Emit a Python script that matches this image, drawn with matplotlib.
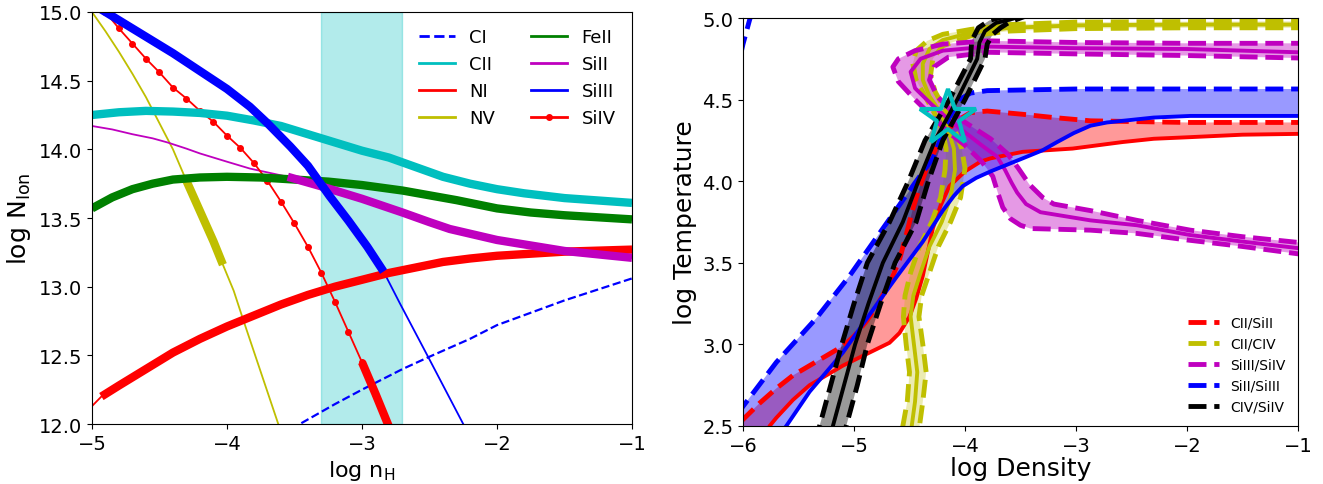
import matplotlib
matplotlib.use("Agg")
import matplotlib.pyplot as plt
from matplotlib.lines import Line2D
import numpy as np

# ---------------- left panel: log N vs log nH ----------------
ci_x = [-3.6, -3.46, -3.2, -3.0, -2.7, -2.5, -2.2, -2.0, -1.5, -1.0]
ci_y = [11.92, 12.0, 12.145, 12.25, 12.40, 12.49, 12.62, 12.72, 12.90, 13.06]

cii_x = [-5.0, -4.8, -4.6, -4.4, -4.2, -4.0, -3.8, -3.6, -3.4, -3.2, -3.0, -2.8, -2.6, -2.4,
         -2.2, -2.0, -1.8, -1.5, -1.0]
cii_y = [14.25, 14.27, 14.28, 14.275, 14.265, 14.245, 14.21, 14.17, 14.11, 14.05, 13.99, 13.94,
         13.87, 13.80, 13.75, 13.71, 13.68, 13.645, 13.61]

ni_x = [-5.0, -4.93, -4.8, -4.6, -4.4, -4.2, -4.0, -3.8, -3.6, -3.4, -3.2, -3.0, -2.8, -2.6,
        -2.4, -2.2, -2.0, -1.5, -1.0]
ni_y = [12.13, 12.2, 12.28, 12.40, 12.52, 12.62, 12.71, 12.79, 12.87, 12.94, 13.0, 13.05, 13.10,
        13.14, 13.18, 13.205, 13.225, 13.255, 13.27]

nv_x = [-5.0, -4.9, -4.8, -4.7, -4.6, -4.5, -4.4, -4.3, -4.2, -4.1, -4.03, -3.95, -3.88, -3.75,
        -3.62, -3.55]
nv_y = [15.0, 14.86, 14.71, 14.55, 14.38, 14.19, 14.0, 13.77, 13.55, 13.33, 13.16, 12.97, 12.76,
        12.38, 12.0, 11.8]

feii_x = [-5.0, -4.85, -4.7, -4.55, -4.4, -4.2, -4.0, -3.75, -3.5, -3.25, -3.0, -2.7, -2.5, -2.3,
          -2.0, -1.75, -1.5, -1.0]
feii_y = [13.57, 13.65, 13.71, 13.75, 13.78, 13.795, 13.80, 13.795, 13.78, 13.765, 13.74, 13.70,
          13.665, 13.63, 13.57, 13.54, 13.52, 13.49]

siii_x = [-5.0, -4.85, -4.7, -4.55, -4.44, -4.3, -4.2, -4.0, -3.83, -3.55, -3.3, -3.0, -2.7,
          -2.5, -2.35, -2.0, -1.75, -1.5, -1.0]
siii_y = [14.17, 14.145, 14.11, 14.08, 14.05, 14.005, 13.97, 13.91, 13.86, 13.80, 13.73, 13.64,
          13.54, 13.47, 13.42, 13.34, 13.30, 13.26, 13.21]

siiii_x = [-4.95, -4.9, -4.6, -4.4, -4.2, -4.0, -3.83, -3.7, -3.53, -3.4, -3.24, -3.1, -2.96,
           -2.84, -2.72, -2.5, -2.25, -2.2]
siiii_y = [15.03, 15.0, 14.82, 14.70, 14.57, 14.44, 14.31, 14.19, 14.02, 13.88, 13.66, 13.48,
           13.29, 13.11, 12.88, 12.47, 12.0, 11.9]

siiv_x = [-5.0, -4.9, -4.8, -4.7, -4.6, -4.5, -4.4, -4.3, -4.2, -4.1, -4.0, -3.9, -3.8,
          -3.7, -3.6, -3.5, -3.4, -3.3, -3.2, -3.1, -3.0, -2.9, -2.8]
siiv_y = [15.1, 15.0, 14.88, 14.77, 14.66, 14.56, 14.45, 14.37, 14.28, 14.20, 14.10, 14.01, 13.90,
          13.77, 13.62, 13.46, 13.29, 13.10, 12.89, 12.67, 12.45, 12.22, 11.98]

# ranges where each ion is drawn thick
thick = {"CII": (-5.0, -1.0), "NI": (-4.93, -1.0), "NV": (-4.3, -4.03), "FeII": (-5.0, -1.0),
         "SiII": (-3.55, -1.0), "SiIII": (-5.0, -2.84), "SiIV": (-3.0, -2.8)}

# ---------------- right panel: ratio bands in (nH, T) ----------------
# CII/SiII : dashed limit and solid limit
cii_siii_dash = [(-0.9, 4.36), (-1.0, 4.36), (-2.0, 4.36), (-2.87, 4.37), (-3.2, 4.39), (-3.48, 4.41),
                 (-3.8, 4.43), (-3.95, 4.42), (-4.05, 4.38), (-4.15, 4.32), (-4.25, 4.22), (-4.34, 4.09),
                 (-4.41, 3.96), (-4.47, 3.83), (-4.53, 3.67), (-4.59, 3.52), (-4.65, 3.42), (-4.71, 3.34),
                 (-4.8, 3.23), (-4.89, 3.14), (-5.0, 3.05), (-5.10, 2.99), (-5.25, 2.93), (-5.40, 2.87),
                 (-5.55, 2.81), (-5.70, 2.73), (-5.85, 2.64), (-6.0, 2.54), (-6.1, 2.48)]
cii_siii_solid = [(-0.9, 4.29), (-1.0, 4.29), (-1.5, 4.285), (-1.97, 4.27), (-2.3, 4.26), (-2.58, 4.24),
                  (-3.03, 4.20), (-3.48, 4.18), (-3.77, 4.14), (-3.86, 4.12), (-4.0, 4.06), (-4.14, 3.97),
                  (-4.22, 3.85), (-4.29, 3.71), (-4.34, 3.55), (-4.38, 3.42), (-4.44, 3.28), (-4.5, 3.17),
                  (-4.59, 3.07), (-4.68, 3.01), (-4.80, 2.97), (-5.10, 2.87), (-5.40, 2.75), (-5.55, 2.66),
                  (-5.70, 2.55), (-5.76, 2.5), (-5.8, 2.45)]

# CII/CIV : outer dashed, inner dashed, centre
cii_civ_a = [(-0.9, 4.98), (-1.0, 4.98), (-2.0, 4.978), (-3.0, 4.975), (-3.6, 4.96), (-3.95, 4.93),
             (-4.2, 4.9), (-4.34, 4.86), (-4.44, 4.80), (-4.47, 4.72), (-4.44, 4.62), (-4.36, 4.52),
             (-4.27, 4.41), (-4.2, 4.3), (-4.17, 4.2), (-4.18, 4.07), (-4.22, 3.9), (-4.30, 3.75),
             (-4.41, 3.6), (-4.49, 3.44), (-4.54, 3.3), (-4.555, 3.17), (-4.53, 3.0), (-4.50, 2.83),
             (-4.52, 2.65), (-4.56, 2.5), (-4.57, 2.45)]
cii_civ_b = [(-0.9, 4.94), (-1.0, 4.94), (-2.0, 4.94), (-3.0, 4.935), (-3.6, 4.92), (-3.95, 4.89),
             (-4.2, 4.83), (-4.29, 4.75), (-4.31, 4.65), (-4.27, 4.55), (-4.19, 4.45), (-4.1, 4.33),
             (-4.03, 4.2), (-4.0, 4.08), (-4.04, 3.9), (-4.13, 3.75), (-4.24, 3.6), (-4.32, 3.44),
             (-4.39, 3.3), (-4.415, 3.17), (-4.38, 3.0), (-4.35, 2.83), (-4.38, 2.65), (-4.41, 2.5),
             (-4.42, 2.45)]
cii_civ_c = [(-0.9, 4.96), (-1.0, 4.96), (-2.0, 4.96), (-3.0, 4.955), (-3.6, 4.94), (-3.95, 4.91),
             (-4.2, 4.865), (-4.32, 4.81), (-4.38, 4.72), (-4.38, 4.62), (-4.32, 4.52), (-4.23, 4.43),
             (-4.15, 4.31), (-4.1, 4.2), (-4.09, 4.07), (-4.13, 3.9), (-4.21, 3.75), (-4.32, 3.6),
             (-4.40, 3.44), (-4.465, 3.3), (-4.49, 3.17), (-4.46, 3.0), (-4.43, 2.83), (-4.45, 2.65),
             (-4.48, 2.5), (-4.49, 2.45)]

# SiIII/SiIV
siiii_siiv_a = [(-0.9, 4.845), (-1.0, 4.845), (-2.0, 4.845), (-3.0, 4.85), (-3.8, 4.86), (-4.2, 4.84),
                (-4.45, 4.80), (-4.6, 4.75), (-4.65, 4.70), (-4.6, 4.61), (-4.45, 4.5), (-4.3, 4.4),
                (-4.15, 4.3), (-4.0, 4.22), (-3.85, 4.12), (-3.75, 4.03), (-3.70, 3.92), (-3.66, 3.84),
                (-3.59, 3.77), (-3.5, 3.73), (-3.41, 3.71), (-2.87, 3.70), (-2.45, 3.68), (-2.0, 3.64),
                (-1.5, 3.60), (-1.0, 3.555), (-0.9, 3.55)]
siiii_siiv_b = [(-0.9, 4.755), (-1.0, 4.755), (-2.0, 4.77), (-3.0, 4.78), (-3.8, 4.79), (-4.15, 4.76),
                (-4.28, 4.70), (-4.32, 4.62), (-4.25, 4.52), (-4.12, 4.43), (-4.02, 4.37), (-3.77, 4.26),
                (-3.62, 4.17), (-3.52, 4.08), (-3.42, 3.98), (-3.3, 3.9), (-3.2, 3.86), (-2.87, 3.82),
                (-2.45, 3.76), (-1.97, 3.70), (-1.5, 3.66), (-1.0, 3.625), (-0.9, 3.62)]
siiii_siiv_c = [(-0.9, 4.79), (-1.0, 4.79), (-2.0, 4.81), (-3.0, 4.815), (-3.8, 4.825), (-4.2, 4.80),
                (-4.4, 4.75), (-4.49, 4.67), (-4.45, 4.57), (-4.3, 4.47), (-4.15, 4.38), (-4.0, 4.3),
                (-3.85, 4.22), (-3.71, 4.15), (-3.64, 4.07), (-3.58, 3.99), (-3.53, 3.93), (-3.45, 3.86),
                (-3.32, 3.81), (-2.87, 3.76), (-2.45, 3.73), (-1.97, 3.67), (-1.5, 3.63), (-1.0, 3.59),
                (-0.9, 3.585)]

# SiII/SiIII : dashed limit and solid limit
siii_siiii_dash = [(-0.9, 4.565), (-1.0, 4.565), (-2.0, 4.565), (-3.0, 4.565), (-3.8, 4.555), (-3.95, 4.54),
                   (-4.05, 4.50), (-4.15, 4.38), (-4.29, 4.14), (-4.45, 3.99), (-4.74, 3.71), (-5.04, 3.42),
                   (-5.34, 3.16), (-5.70, 2.89), (-6.0, 2.62), (-6.15, 2.48)]
siii_siiii_solid = [(-0.9, 4.40), (-1.0, 4.40), (-1.97, 4.40), (-2.3, 4.39), (-2.58, 4.37), (-2.72, 4.36),
                    (-2.87, 4.34), (-3.02, 4.295), (-3.17, 4.24), (-3.3, 4.19), (-3.48, 4.14), (-3.77, 4.06),
                    (-3.9, 4.02), (-4.02, 3.97), (-4.1, 3.91), (-4.2, 3.82), (-4.38, 3.63), (-4.62, 3.41),
                    (-4.80, 3.24), (-5.10, 2.95), (-5.40, 2.71), (-5.61, 2.5), (-5.67, 2.45)]
siii_siiii_corner = [(-6.02, 4.78), (-6.0, 4.84), (-5.94, 4.99), (-5.92, 5.03)]

# CIV/SiIV
civ_siiv_a = [(-5.35, 2.4), (-5.31, 2.5), (-5.21, 2.75), (-5.11, 3.0), (-5.0, 3.25), (-4.88, 3.5),
              (-4.68, 3.75), (-4.51, 4.0), (-4.36, 4.25), (-4.14, 4.5), (-3.95, 4.75), (-3.94, 4.86),
              (-3.88, 4.94), (-3.78, 4.985), (-3.65, 5.01), (-3.5, 5.05)]
civ_siiv_c = [(-5.23, 2.4), (-5.19, 2.5), (-5.09, 2.75), (-4.99, 3.0), (-4.87, 3.25), (-4.74, 3.5),
              (-4.56, 3.75), (-4.42, 4.0), (-4.27, 4.25), (-4.07, 4.5), (-3.89, 4.75), (-3.87, 4.85),
              (-3.82, 4.92), (-3.72, 4.97), (-3.6, 4.99), (-3.4, 5.03)]
civ_siiv_b = [(-5.11, 2.4), (-5.07, 2.5), (-4.97, 2.75), (-4.88, 3.0), (-4.76, 3.25), (-4.63, 3.5),
              (-4.44, 3.75), (-4.33, 4.0), (-4.20, 4.25), (-4.0, 4.5), (-3.82, 4.75), (-3.80, 4.84),
              (-3.75, 4.9), (-3.68, 4.94), (-3.6, 4.975), (-3.5, 5.0), (-3.3, 5.05)]

best_nh, best_t = -4.15, 4.39


def seg(x, y, lo, hi):
    x = np.asarray(x)
    y = np.asarray(y)
    m = (x >= lo - 1e-9) & (x <= hi + 1e-9)
    return x[m], y[m]


def xy(pts):
    a = np.array(pts)
    return a[:, 0], a[:, 1]


fig = plt.figure(figsize=(13.23, 4.85), dpi=100)
ax1 = fig.add_axes([0.0695, 0.1237, 0.4082, 0.8495])
ax2 = fig.add_axes([0.5616, 0.1196, 0.4195, 0.8412])

# ---- left ----
thin = 1.3
fat = 6
ax1.axvspan(-3.3, -2.7, color="c", alpha=0.3)
ax1.plot(ci_x, ci_y, "b--", lw=thin + 0.3, label="CI")
ax1.plot(cii_x, cii_y, "c-", lw=thin + 0.5, label="CII")
ax1.plot(ni_x, ni_y, "r-", lw=thin, label="NI")
ax1.plot(nv_x, nv_y, "y-", lw=thin, label="NV")
ax1.plot(feii_x, feii_y, "g-", lw=thin + 0.5, label="FeII")
ax1.plot(siii_x, siii_y, "m-", lw=thin, label="SiII")
ax1.plot(siiii_x, siiii_y, "b-", lw=thin, label="SiIII")
ax1.plot(siiv_x, siiv_y, "r.-", lw=thin, ms=8, label="SiIV")

for xs, ys, c, key in [(cii_x, cii_y, "c", "CII"), (ni_x, ni_y, "r", "NI"), (nv_x, nv_y, "y", "NV"),
                       (feii_x, feii_y, "g", "FeII"), (siii_x, siii_y, "m", "SiII"),
                       (siiii_x, siiii_y, "b", "SiIII"), (siiv_x, siiv_y, "r", "SiIV")]:
    sx, sy = seg(xs, ys, *thick[key])
    ax1.plot(sx, sy, color=c, lw=fat, solid_capstyle="butt", solid_joinstyle="round")

ax1.set_xlim(-5, -1)
ax1.set_ylim(12, 15)
ax1.set_xticks([-5, -4, -3, -2, -1])
ax1.set_yticks(np.arange(12, 15.01, 0.5))
ax1.tick_params(labelsize=14)
ax1.set_xlabel(r"log n$_{\rm H}$", fontsize=16)
ax1.set_ylabel(r"log N$_{\rm Ion}$", fontsize=18)
leg = ax1.legend(ncol=2, loc="upper right", fontsize=13, frameon=False, columnspacing=2.0)
for h in leg.get_lines():
    h.set_linewidth(2)

# ---- right ----
dlw, slw = 3.5, 2.8


def band(ax, a, b, color, alpha):
    ax_, ay_ = xy(a)
    bx_, by_ = xy(b)
    ax.fill(np.concatenate([ax_, bx_[::-1]]), np.concatenate([ay_, by_[::-1]]),
            color=color, alpha=alpha, lw=0, zorder=1)


band(ax2, cii_siii_dash, cii_siii_solid, "r", 0.4)
band(ax2, cii_civ_a, cii_civ_b, "y", 0.3)
band(ax2, siiii_siiv_a, siiii_siiv_b, "m", 0.4)
band(ax2, siii_siiii_dash, siii_siiii_solid, "b", 0.4)
band(ax2, civ_siiv_a, civ_siiv_b, "k", 0.4)

ax2.plot(*xy(cii_siii_dash), "r--", lw=dlw, zorder=2)
ax2.plot(*xy(cii_siii_solid), "r-", lw=slw, zorder=2)
ax2.plot(*xy(cii_civ_a), "y--", lw=dlw, zorder=2)
ax2.plot(*xy(cii_civ_b), "y--", lw=dlw, zorder=2)
ax2.plot(*xy(cii_civ_c), "y-", lw=slw, zorder=2)
ax2.plot(*xy(siiii_siiv_a), "m--", lw=dlw, zorder=2)
ax2.plot(*xy(siiii_siiv_b), "m--", lw=dlw, zorder=2)
ax2.plot(*xy(siiii_siiv_c), "m-", lw=slw, zorder=2)
ax2.plot(*xy(siii_siiii_dash), "b--", lw=dlw, zorder=2)
ax2.plot(*xy(siii_siiii_solid), "b-", lw=slw, zorder=2)
ax2.plot(*xy(siii_siiii_corner), "b--", lw=dlw, zorder=2)
ax2.plot(*xy(civ_siiv_a), "k--", lw=dlw, zorder=2)
ax2.plot(*xy(civ_siiv_b), "k--", lw=dlw, zorder=2)
ax2.plot(*xy(civ_siiv_c), "k-", lw=slw, zorder=2)

ax2.plot(best_nh, best_t, marker="*", ms=42, mfc="none", mec="c", mew=3, zorder=5)

ax2.set_xlim(-6, -1)
ax2.set_ylim(2.5, 5.0)
ax2.set_xticks([-6, -5, -4, -3, -2, -1])
ax2.set_yticks(np.arange(2.5, 5.01, 0.5))
ax2.tick_params(labelsize=14)
ax2.set_xlabel("log Density", fontsize=18, labelpad=1)
ax2.set_ylabel("log Temperature", fontsize=18)

handles = [Line2D([], [], color=c, ls="--", lw=3.5) for c in ["r", "y", "m", "b", "k"]]
names = ["CII/SiII", "CII/CIV", "SiIII/SiIV", "SiII/SiIII", "CIV/SiIV"]
ax2.legend(handles, names, loc="lower right", fontsize=10, frameon=False, handlelength=2.2)

fig.savefig("out.png", dpi=100)
